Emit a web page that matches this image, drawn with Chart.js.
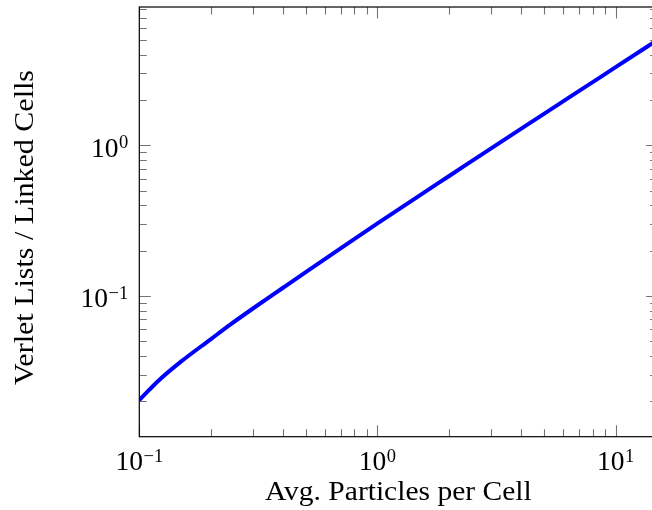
<!DOCTYPE html>
<html>
<head>
<meta charset="utf-8">
<script src="https://cdn.jsdelivr.net/npm/chart.js@4/dist/chart.umd.min.js"></script>
<style>
  html, body { margin: 0; padding: 0; background: #fff; overflow: hidden; }
  #wrap { position: absolute; left: 0; top: 0; width: 670px; height: 510px; }
</style>
</head>
<body>
<div id="wrap"><canvas id="chart" width="670" height="510"></canvas></div>
<script>
// Avg. particles per cell vs. cost ratio (Verlet lists / linked cells)
const particlesPerCell = [0.1, 0.11, 0.12, 0.15, 0.2, 0.24, 0.3, 0.4, 0.5, 0.7, 1, 1.5, 2, 3, 5, 7, 10, 15];
const costRatio = [0.0204, 0.0238, 0.0273, 0.0368, 0.0518, 0.0643, 0.0826, 0.113, 0.144, 0.207, 0.303, 0.464, 0.626, 0.955, 1.617, 2.287, 3.3, 5.01];

// major ticks and their labels (10^exp)
const xMajorTicks = [0.1, 1, 10];
const xTickExps = ['\u22121', '0', '1'];
const yMajorTicks = [0.1, 1];
const yTickExps = ['\u22121', '0'];

const xTitle = 'Avg. Particles per Cell';
const yTitle = 'Verlet Lists / Linked Cells';

const FONT = '"Liberation Serif", "DejaVu Serif", serif';

function minorTicks(min, max) {
    const out = [];
    for (let n = -3; n <= 2; n++) {
        for (let k = 2; k <= 9; k++) {
            const v = k * Math.pow(10, n);
            if (v > min && v < max) out.push(v);
        }
    }
    return out;
}

// text squeezed/stretched to a given width, like the TeX original
function fitText(ctx, text, x, y, width, size, rot) {
    ctx.save();
    ctx.font = size + 'px ' + FONT;
    const w = ctx.measureText(text).width;
    ctx.translate(x, y);
    if (rot) ctx.rotate(rot);
    ctx.scale(width / w, 1);
    ctx.textAlign = 'center';
    ctx.textBaseline = 'alphabetic';
    ctx.fillText(text, 0, 0);
    ctx.restore();
}

function powerLabel(ctx, exp, x, y, align) {
    const base = '10';
    ctx.font = '27.5px ' + FONT;
    const wb = ctx.measureText(base).width;
    ctx.font = '18.5px ' + FONT;
    const we = ctx.measureText(exp).width;
    const total = wb + we + 0.5;
    let left = x;
    if (align === 'center') left = x - total / 2;
    else if (align === 'right') left = x - total;
    ctx.textAlign = 'left';
    ctx.textBaseline = 'alphabetic';
    ctx.font = '27.5px ' + FONT;
    ctx.fillText(base, left, y);
    ctx.font = '18.5px ' + FONT;
    ctx.fillText(exp, left + wb + 0.5, y - 8.5);
}

const axisFrame = {
    id: 'axisFrame',
    afterDatasetsDraw(chart) {
        const { ctx, chartArea: a, scales: { x, y } } = chart;
        ctx.save();

        // tick marks on all four sides, pointing inwards
        ctx.strokeStyle = 'rgba(0,0,0,0.55)';
        ctx.lineWidth = 1.1;
        const drawX = (v, len) => {
            const px = Math.round(x.getPixelForValue(v)) + 0.5;
            ctx.beginPath();
            ctx.moveTo(px, a.bottom); ctx.lineTo(px, a.bottom - len);
            ctx.moveTo(px, a.top); ctx.lineTo(px, a.top + len);
            ctx.stroke();
        };
        const drawY = (v, len) => {
            const py = Math.round(y.getPixelForValue(v)) + 0.5;
            ctx.beginPath();
            ctx.moveTo(a.left, py); ctx.lineTo(a.left + len, py);
            ctx.moveTo(a.right, py); ctx.lineTo(a.right - len, py);
            ctx.stroke();
        };
        minorTicks(x.min, x.max).forEach(v => drawX(v, 7.5));
        minorTicks(y.min, y.max).forEach(v => drawY(v, 7.5));
        xMajorTicks.forEach(v => drawX(v, 11.5));
        yMajorTicks.forEach(v => drawY(v, 11.5));

        // frame
        ctx.strokeStyle = '#000';
        ctx.lineWidth = 1.2;
        ctx.strokeRect(a.left, a.top, a.right - a.left, a.bottom - a.top);

        // tick labels
        ctx.fillStyle = '#000';
        xMajorTicks.forEach((v, i) => powerLabel(ctx, xTickExps[i], x.getPixelForValue(v), 470, 'center'));
        yMajorTicks.forEach((v, i) => powerLabel(ctx, yTickExps[i], a.left - 11, y.getPixelForValue(v) + 11.4, 'right'));

        // axis titles
        fitText(ctx, xTitle, 398.3, 500, 266.7, 27, 0);
        fitText(ctx, yTitle, 32.5, 227.5, 315, 27, -Math.PI / 2);

        ctx.restore();
    }
};

new Chart(document.getElementById('chart'), {
    type: 'line',
    data: {
        datasets: [{
            data: particlesPerCell.map((v, i) => ({ x: v, y: costRatio[i] })),
            borderColor: '#0000ff',
            borderWidth: 4,
            pointRadius: 0,
            cubicInterpolationMode: 'monotone',
            fill: false,
        }],
    },
    options: {
        responsive: false,
        animation: false,
        layout: { padding: { left: 139.3, top: 7, right: 12.4, bottom: 73.3 } },
        plugins: { legend: { display: false }, tooltip: { enabled: false } },
        scales: {
            x: { type: 'logarithmic', min: 0.1, max: 15, display: false },
            y: { type: 'logarithmic', min: 0.01165, max: 8.276, display: false },
        },
    },
    plugins: [axisFrame],
});
</script>
</body>
</html>
